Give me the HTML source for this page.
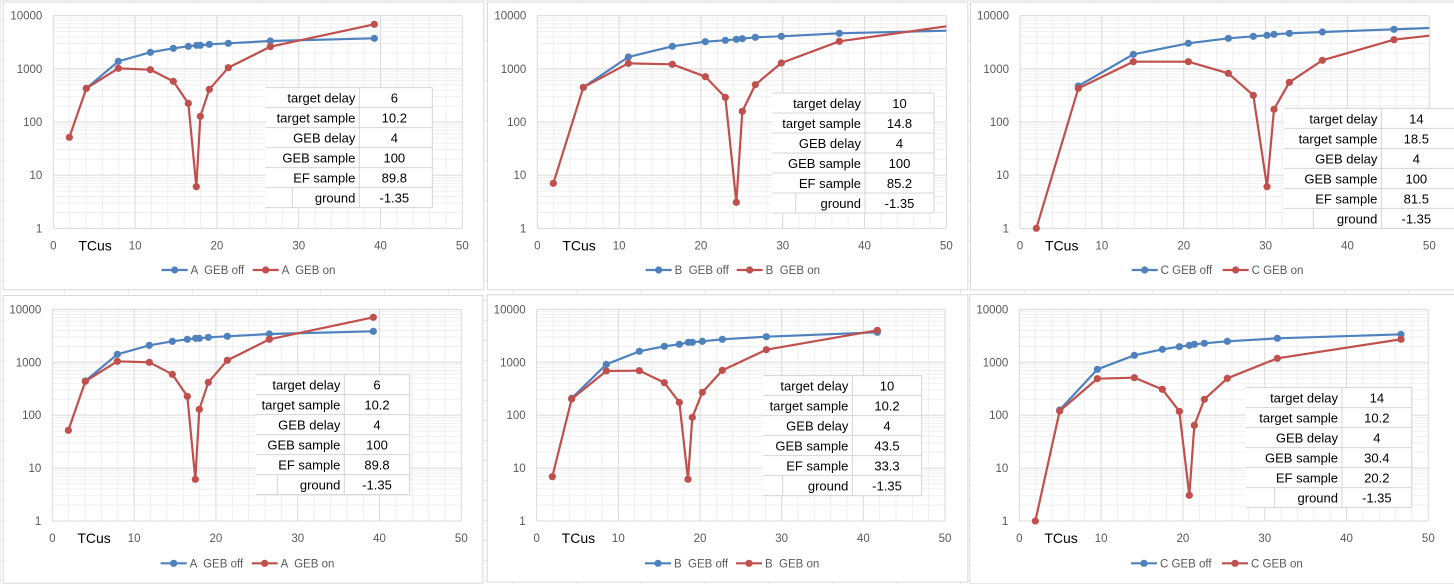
<!DOCTYPE html>
<html><head><meta charset="utf-8"><style>
html,body{margin:0;padding:0;background:#fff;}
svg{display:block;font-family:"Liberation Sans",sans-serif;}
</style></head><body>
<svg id="s" width="1454" height="584" xmlns="http://www.w3.org/2000/svg"></svg>
<script>
const P=[
{o:[0,0],pl:[160,47,1387,685],b:[[259,265],[355,184],[451,157],[520,145],[565,139],[590,136],[601,136],[628,133],[685,130],[811,123],[1123,115]],
 r:[[208,412],[259,265],[355,205],[451,209],[520,244],[565,310],[589,560],[601,349],[628,268],[685,203],[811,140],[1123,73]],
 t:[797,1078,1297,263,877],v:["6","10.2","4","100","89.8","-1.35"],bd:[8,5,1450,868],lg:[485,810],n:"A  GEB"},
{o:[484,0],pl:[160,47,1387,685],b:[[298,262],[433,171],[565,139],[664,125],[724,121],[757,118],[775,116],[814,112],[892,109],[1066,100],[1387,92]],
 r:[[208,550],[298,262],[433,190],[565,193],[664,230],[724,292],[757,607],[775,334],[814,254],[892,189],[1066,124],[1387,79]],
 t:[865,1143,1350,279,935],v:["10","14.8","4","100","85.2","-1.35"],bd:[9,5,1450,868],lg:[485,810],n:"B  GEB",noEnd:true},
{o:[960,0],pl:[180,47,1408,685],b:[[355,258],[520,163],[685,130],[805,115],[880,109],[921,106],[942,103],[988,100],[1087,96],[1302,88],[1408,84]],
 r:[[229,685],[355,265],[520,185],[685,185],[805,220],[880,286],[921,560],[942,328],[988,247],[1087,181],[1302,119],[1408,107]],
 t:[972,1264,1500,325,1060],v:["14","18.5","4","100","81.5","-1.35"],bd:[30,5,1500,868],lg:[515,810],n:"C GEB",noEnd:true},
{o:[0,290],pl:[157,58,1384,693],b:[[256,273],[352,193],[448,166],[517,154],[562,148],[587,145],[598,145],[625,142],[682,139],[808,132],[1120,124]],
 r:[[205,421],[256,274],[352,214],[448,217],[517,253],[562,319],[586,568],[598,358],[625,277],[682,211],[808,148],[1120,82]],
 t:[768,1033,1229,254,832],v:["6","10.2","4","100","89.8","-1.35"],bd:[8,15,1447,878],lg:[482,820],n:"A  GEB"},
{o:[480,280],pl:[170,88,1395,723],b:[[275,355],[379,253],[478,214],[553,199],[598,193],[625,187],[637,187],[667,184],[727,178],[859,170],[1192,157]],
 r:[[217,590],[275,357],[379,273],[478,272],[553,308],[598,367],[624,598],[637,412],[667,337],[727,271],[859,209],[1192,151]],
 t:[849,1117,1325,287,908],v:["10","10.2","4","43.5","33.3","-1.35"],bd:[20,43,1462,905],lg:[495,850],n:"B  GEB"},
{o:[966,290],pl:[160,58,1387,693],b:[[281,360],[394,238],[505,196],[589,178],[640,170],[670,166],[685,163],[715,160],[784,154],[934,145],[1305,133]],
 r:[[208,693],[281,363],[394,266],[505,263],[589,298],[640,364],[670,616],[685,406],[715,328],[784,265],[934,205],[1305,148]],
 t:[840,1128,1337,293,926],v:["14","10.2","4","30.4","20.2","-1.35"],bd:[10,12,1480,880],lg:[495,820],n:"C GEB"}
];
const L=["target delay","target sample","GEB delay","GEB sample","EF sample","ground"];
let h='';
// faint spreadsheet grid background
for(let x=0;x<1454;x+=64)h+=`<line x1="${x+.5}" y1="0" x2="${x+.5}" y2="584" stroke="#ececec"/>`;
for(let y=0;y<584;y+=20)h+=`<line x1="0" y1="${y+.5}" x2="1454" y2="${y+.5}" stroke="#ececec"/>`;
const BL="#4f81bd",RD="#c0504d";
P.forEach(p=>{
 const f=(zx,zy)=>[p.o[0]+zx/3,p.o[1]+zy/3];
 const [bx0,by0]=f(p.bd[0],p.bd[1]),[bx1,by1]=f(p.bd[2],p.bd[3]);
 h+=`<rect x="${bx0+.5}" y="${by0+.5}" width="${bx1-bx0}" height="${by1-by0}" fill="#fff" stroke="#d9d9d9"/>`;
 const [x0,y0]=f(p.pl[0],p.pl[1]),[x1,y1]=f(p.pl[2],p.pl[3]);
 const W=x1-x0,H=y1-y0,dec=H/4;
 // minor grid
 for(let d=0;d<4;d++)for(let k=2;k<10;k++){const y=y1-dec*(d+Math.log10(k));h+=`<line x1="${x0}" y1="${y}" x2="${x1}" y2="${y}" stroke="#efefef"/>`;}
 for(let i=1;i<25;i++){if(i%5==0)continue;const x=x0+W*i/25;h+=`<line x1="${x}" y1="${y0}" x2="${x}" y2="${y1}" stroke="#efefef"/>`;}
 for(let d=0;d<=4;d++){const y=y1-dec*d;h+=`<line x1="${x0}" y1="${y}" x2="${x1}" y2="${y}" stroke="#d9d9d9"/>`;
  h+=`<text x="${x0-11}" y="${y+4}" font-size="11.5" fill="#595959" text-anchor="end">${[1,10,100,1000,10000][d]}</text>`;}
 for(let i=0;i<=5;i++){const x=x0+W*i/5;h+=`<line x1="${x}" y1="${y0}" x2="${x}" y2="${y1}" stroke="#d9d9d9"/>`;
  h+=`<text x="${x}" y="${y1+21}" font-size="11.5" fill="#595959" text-anchor="middle">${i*10}</text>`;}
 h+=`<text x="${x0+25}" y="${y1+22}" font-size="14" fill="#000">TCus</text>`;
 // series
 const ser=(pts,c)=>{const q=pts.map(a=>f(a[0],a[1]));h+=`<polyline points="${q.map(a=>a.join(',')).join(' ')}" fill="none" stroke="${c}" stroke-width="2.2" stroke-linejoin="round"/>`;
  q.forEach((a,i)=>{if(p.noEnd&&i==q.length-1)return;h+=`<circle cx="${a[0]}" cy="${a[1]}" r="3.6" fill="${c}"/>`;});};
 ser(p.b,BL);ser(p.r,RD);
 // table
 const [tl,tt]=f(p.t[0],p.t[3]),td=f(p.t[1],0)[0],tr=Math.min(f(p.t[2],0)[0],1454),gd=f(p.t[4],0)[0];
 h+=`<rect x="${tl}" y="${tt}" width="${tr-tl}" height="120" fill="#fff"/>`;
 for(let i=0;i<6;i++){const y=tt+20*i;
  h+=`<line x1="${tl}" y1="${y+20}" x2="${tr}" y2="${y+20}" stroke="#d4d4d4"/>`;
  h+=`<text x="${td-4}" y="${y+15}" font-size="13" fill="#000" text-anchor="end">${L[i]}</text>`;
  h+=`<text x="${(td+Math.min(f(p.t[2],0)[0],td+70))/2}" y="${y+15}" font-size="13" fill="#000" text-anchor="middle">${p.v[i]}</text>`;}
 h+=`<line x1="${tl}" y1="${tt}" x2="${tr}" y2="${tt}" stroke="#d4d4d4"/>`;
 h+=`<line x1="${td}" y1="${tt}" x2="${td}" y2="${tt+120}" stroke="#d4d4d4"/>`;
 if(tr<1454)h+=`<line x1="${tr}" y1="${tt}" x2="${tr}" y2="${tt+120}" stroke="#d4d4d4"/>`;
 h+=`<line x1="${gd}" y1="${tt+100}" x2="${gd}" y2="${tt+120}" stroke="#d4d4d4"/>`;
 // legend
 const [lx,ly]=f(p.lg[0],p.lg[1]);
 h+=`<line x1="${lx}" y1="${ly}" x2="${lx+26}" y2="${ly}" stroke="${BL}" stroke-width="2.2"/><circle cx="${lx+13}" cy="${ly}" r="3.6" fill="${BL}"/>`;
 h+=`<text x="${lx+29}" y="${ly+4}" font-size="11.5" fill="#595959" xml:space="preserve">${p.n} off</text>`;
 h+=`<line x1="${lx+91}" y1="${ly}" x2="${lx+117}" y2="${ly}" stroke="${RD}" stroke-width="2.2"/><circle cx="${lx+104}" cy="${ly}" r="3.6" fill="${RD}"/>`;
 h+=`<text x="${lx+120}" y="${ly+4}" font-size="11.5" fill="#595959" xml:space="preserve">${p.n} on</text>`;
});
document.getElementById('s').innerHTML=h;
</script>
</body></html>
